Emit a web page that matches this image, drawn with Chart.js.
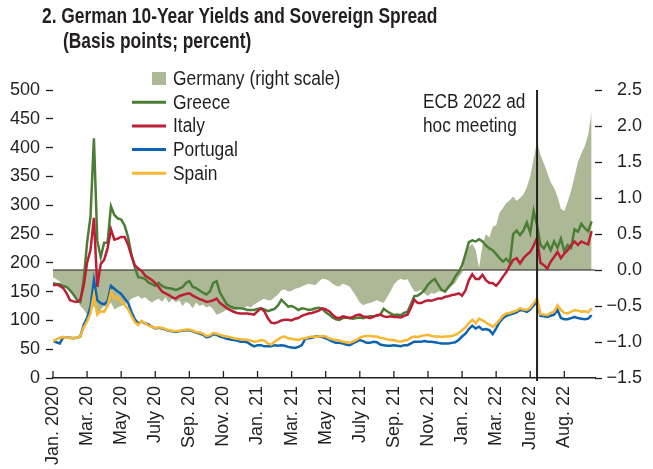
<!DOCTYPE html>
<html lang="en">
<head>
    <meta charset="UTF-8">
    <title>German 10-Year Yields and Sovereign Spread</title>
    <script src="https://cdn.jsdelivr.net/npm/chart.js@4.4.0/dist/chart.umd.min.js"></script>
    <style>
        body { margin: 0; background: #fff; }
        canvas#spreadChart { display: block; }
    </style>
</head>
<body>
    <canvas id="spreadChart" width="653" height="469"></canvas>
    <script>
        // x axis: one unit per ~1/10 of the tick spacing, ticks every 10 units
        const tickLabels = ['Jan. 2020', 'Mar. 20', 'May 20', 'July 20', 'Sep. 20', 'Nov. 20',
            'Jan. 21', 'Mar. 21', 'May 21', 'July 21', 'Sep. 21', 'Nov. 21',
            'Jan. 22', 'Mar. 22', 'June 22', 'Aug. 22'];
        const ecbIndex = 142;

        // spreads over German bund, basis points (left scale)
        const greece = [
            165,163,163,160,158,152,145,136,132,170,235,280,416,238,210,235,235,298,283,277,275,265,245,215,192,175,174,172,166,163,160,165,
            160,157,156,155,153,155,158,165,168,158,156,152,148,145,150,165,168,148,138,128,124,122,121,121,120,118,118,118,120,121,119,116,
            118,120,126,136,130,124,125,122,118,121,120,118,119,121,122,120,114,110,105,102,101,104,105,104,103,104,105,104,106,107,107,108,110,120,116,112,109,
            110,109,113,115,128,142,143,147,153,162,168,172,162,153,150,158,165,176,184,195,215,236,239,237,241,237,230,225,
            222,215,208,202,207,200,250,256,248,256,270,252,290,265,231,225,235,222,237,226,242,220,231,226,258,254,268,260,255,272
        ];
        const italy = [
            161,162,160,156,147,135,133,132,135,160,200,222,278,158,198,205,225,258,240,242,245,245,232,212,196,190,186,178,174,170,165,158,
            150,147,144,140,138,142,144,146,147,143,140,137,135,132,133,135,138,130,126,121,118,115,113,112,112,112,111,110,116,121,116,104,
            96,95,97,100,101,101,100,103,104,108,110,112,113,115,117,121,119,116,110,105,104,107,106,104,106,109,110,107,106,104,106,109,110,107,106,107,106,
            106,105,108,110,122,136,130,130,133,135,134,136,138,138,141,142,144,145,147,143,152,170,180,172,172,179,170,165,
            165,160,167,176,184,195,205,208,199,208,214,219,230,243,200,196,190,202,210,219,208,216,222,230,237,231,237,234,232,255
        ];
        const portugal = [
            65,62,60,71,70,70,69,70,72,92,104,124,170,135,130,128,133,160,155,150,146,138,131,115,102,95,98,95,93,89,
            86,87,86,84,82,81,80,81,82,83,83,81,79,77,75,71,72,76,75,72,70,68,67,66,65,63,63,62,58,55,57,57,55,55,
            55,57,56,57,56,54,53,52,54,57,68,69,70,72,72,71,69,66,63,61,61,60,58,57,60,63,66,64,61,61,63,62,58,57,56,56,57,
            56,55,57,57,60,63,63,63,64,63,63,62,61,60,60,60,61,62,66,72,77,85,91,86,89,84,85,83,
            76,86,97,104,108,110,112,114,118,117,115,119,126,133,108,107,106,108,110,118,104,102,102,104,106,104,103,102,103,109
        ];
        const spain = [
            64,67,70,71,70,69,70,70,72,88,98,112,145,110,116,115,125,150,138,140,133,127,120,108,97,92,99,95,91,89,
            87,88,87,85,83,82,81,82,83,84,84,82,80,79,77,73,74,78,77,75,73,72,71,69,68,67,67,66,65,63,64,66,65,60,
            58,63,67,71,72,69,68,67,66,68,69,71,72,71,72,73,72,69,67,66,65,63,62,61,63,66,70,72,73,73,72,72,70,69,67,66,66,
            64,63,65,66,70,72,71,73,74,75,73,72,72,71,72,72,73,75,78,83,88,95,101,95,103,100,96,93,
            89,94,101,108,112,113,115,117,121,119,118,122,130,138,111,110,109,113,115,126,118,113,112,115,118,117,115,116,114,121
        ];
        // German 10-year yield, percent (right scale)
        const germany = [
            -0.1,-0.13,-0.16,-0.2,-0.24,-0.3,-0.33,-0.42,-0.5,-0.55,-0.62,-0.58,-0.5,-0.6,-0.55,-0.5,-0.52,-0.45,-0.55,-0.52,-0.5,-0.48,-0.45,-0.4,-0.38,-0.36,-0.4,-0.38,-0.42,-0.45,
            -0.42,-0.4,-0.44,-0.38,-0.46,-0.4,-0.45,-0.42,-0.5,-0.44,-0.47,-0.53,-0.45,-0.5,-0.48,-0.52,-0.5,-0.55,-0.62,-0.6,-0.58,-0.55,-0.54,-0.57,-0.55,-0.52,-0.53,-0.5,-0.52,-0.48,-0.45,-0.42,-0.4,-0.42,
            -0.42,-0.38,-0.34,-0.28,-0.27,-0.3,-0.29,-0.26,-0.25,-0.23,-0.21,-0.19,-0.2,-0.21,-0.16,-0.12,-0.13,-0.15,-0.19,-0.22,-0.23,-0.19,-0.21,-0.23,-0.3,-0.37,-0.45,-0.49,-0.47,-0.46,-0.44,-0.42,-0.44,-0.46,-0.38,-0.3,-0.2,
            -0.15,-0.12,-0.14,-0.13,-0.22,-0.3,-0.3,-0.27,-0.33,-0.36,-0.32,-0.33,-0.3,-0.3,-0.28,-0.27,-0.22,-0.18,-0.1,-0.04,0.2,0.32,0.36,0.28,0.03,0.35,0.5,0.45,
            0.6,0.62,0.8,0.86,0.93,0.97,1.02,0.96,1.0,1.05,1.15,1.3,1.55,1.78,1.6,1.48,1.35,1.22,1.14,1.02,0.85,0.82,0.95,1.1,1.3,1.5,1.62,1.72,1.88,2.2
        ];

        const FONT = "'Liberation Sans', Arial, sans-serif";
        const INK = '#231f20';
        Chart.defaults.font.family = FONT;
        Chart.defaults.color = INK;

        const toPoints = arr => arr.map((v, i) => ({ x: i, y: v }));

        function lineSet(label, data, color, order) {
            return {
                label: label, data: toPoints(data), yAxisID: 'y',
                borderColor: color, borderWidth: 2.5, pointRadius: 0,
                fill: false, order: order, tension: 0
            };
        }

        // condensed look: squeeze text horizontally
        function narrowText(ctx, text, x, y, sx) {
            ctx.save();
            ctx.translate(x, y);
            ctx.scale(sx, 1);
            ctx.fillText(text, 0, 0);
            ctx.restore();
        }

        // title, legend, zero line, ECB marker and upward x ticks
        const decorations = {
            id: 'decorations',
            afterDatasetDraw(chart, args) {
                if (args.index !== 0) return;
                const { ctx, chartArea, scales } = chart;
                const y0 = scales.y1.getPixelForValue(0);
                ctx.save();
                ctx.strokeStyle = INK;
                ctx.lineWidth = 1.2;
                ctx.beginPath();
                ctx.moveTo(chartArea.left, y0);
                ctx.lineTo(chartArea.right, y0);
                ctx.stroke();
                ctx.restore();
            },
            afterDatasetsDraw(chart) {
                const { ctx, chartArea, scales } = chart;
                ctx.save();
                ctx.strokeStyle = INK;
                ctx.fillStyle = INK;

                // x ticks point up into the plot
                ctx.lineWidth = 1.3;
                scales.x.ticks.forEach(t => {
                    const px = scales.x.getPixelForValue(t.value);
                    ctx.beginPath();
                    ctx.moveTo(px, chartArea.bottom);
                    ctx.lineTo(px, chartArea.bottom - 7);
                    ctx.stroke();
                });

                // ECB meeting marker
                const ex = scales.x.getPixelForValue(ecbIndex);
                ctx.lineWidth = 2;
                ctx.beginPath();
                ctx.moveTo(ex, chartArea.top);
                ctx.lineTo(ex, chartArea.bottom + 3);
                ctx.stroke();
                ctx.font = '20px ' + FONT;
                ctx.textBaseline = 'alphabetic';
                ctx.textAlign = 'left';
                narrowText(ctx, 'ECB 2022 ad', 423, 108, 0.86);
                narrowText(ctx, 'hoc meeting', 423, 132, 0.86);

                // title
                ctx.font = 'bold 22px ' + FONT;
                narrowText(ctx, '2. German 10-Year Yields and Sovereign Spread', 42, 23, 0.79);
                narrowText(ctx, '(Basis points; percent)', 63, 48, 0.79);

                // legend
                ctx.font = '20px ' + FONT;
                ctx.textBaseline = 'middle';
                chart.data.datasets.forEach((ds, i) => {
                    const cy = 78.5 + i * 23.7;
                    if (ds.fill) {
                        ctx.fillStyle = ds.backgroundColor;
                        ctx.fillRect(152, cy - 6.5, 14, 13);
                    } else {
                        ctx.strokeStyle = ds.borderColor;
                        ctx.lineWidth = 3;
                        ctx.beginPath();
                        ctx.moveTo(132, cy);
                        ctx.lineTo(166, cy);
                        ctx.stroke();
                    }
                    ctx.fillStyle = INK;
                    narrowText(ctx, ds.label, 173, cy + 1, 0.87);
                });
                ctx.restore();
            }
        };

        new Chart(document.getElementById('spreadChart'), {
            type: 'line',
            data: {
                datasets: [
                    {
                        label: 'Germany (right scale)', data: toPoints(germany), yAxisID: 'y1',
                        borderWidth: 0, pointRadius: 0, backgroundColor: '#adb996',
                        fill: 'origin', order: 5
                    },
                    lineSet('Greece', greece, '#4b7d34', 4),
                    lineSet('Italy', italy, '#bb1e35', 3),
                    lineSet('Portugal', portugal, '#0d64b0', 2),
                    lineSet('Spain', spain, '#f7b733', 1)
                ]
            },
            options: {
                responsive: false,
                animation: false,
                devicePixelRatio: 1,
                layout: { padding: { top: 90, right: 11, left: 0, bottom: 0 } },
                plugins: {
                    legend: { display: false },
                    title: { display: false },
                    tooltip: { enabled: false }
                },
                scales: {
                    x: {
                        type: 'linear', min: 0, max: 159,
                        afterBuildTicks: scale => {
                            scale.ticks = tickLabels.map((l, i) => ({ value: i * 10 }));
                        },
                        afterFit: scale => { scale.height = 91; },
                        ticks: {
                            callback: v => tickLabels[v / 10],
                            minRotation: 90, maxRotation: 90, autoSkip: false,
                            padding: 8, font: { size: 18 }, color: INK
                        },
                        grid: { display: false, drawTicks: false },
                        border: { display: true, color: INK, width: 1.5 }
                    },
                    y: {
                        position: 'left', min: 0, max: 500,
                        afterFit: scale => { scale.width = 53; },
                        ticks: { stepSize: 50, padding: 6, font: { size: 18 }, color: INK },
                        grid: { drawOnChartArea: false, drawTicks: true, tickLength: 7, tickColor: INK, tickWidth: 1.3 },
                        border: { display: false }
                    },
                    y1: {
                        position: 'right', min: -1.5, max: 2.5,
                        afterFit: scale => { scale.width = 47; },
                        ticks: {
                            stepSize: 0.5, crossAlign: 'far', font: { size: 18 }, color: INK,
                            callback: v => (v < 0 ? '\u2212' : '') + Math.abs(v).toFixed(1)
                        },
                        grid: { drawOnChartArea: false, drawTicks: true, tickLength: 7, tickColor: INK, tickWidth: 1.3 },
                        border: { display: false }
                    }
                }
            },
            plugins: [decorations]
        });
    </script>
</body>
</html>
